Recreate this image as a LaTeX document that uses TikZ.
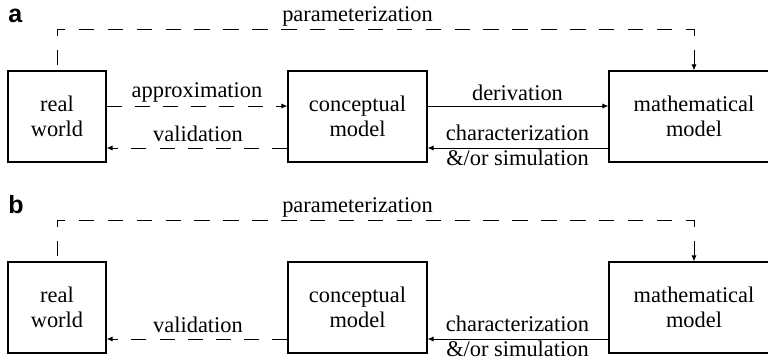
\documentclass[tikz,border=0pt]{standalone}
\usepackage{fontspec}
\setmainfont{Liberation Serif}
\newfontfamily\panelfont{Liberation Sans}
\usetikzlibrary{arrows.meta}

\tikzset{
  box/.style={draw, line width=0.6pt, minimum height=45.5pt, align=center, inner sep=0pt},
  lbl/.style={anchor=base, inner sep=0pt},
  tag/.style={anchor=base west, inner sep=0pt, font=\panelfont\bfseries\fontsize{12.5}{14}\selectfont},
  flow/.style={line width=0.5pt, -{Latex[length=3pt,width=2.6pt]}},
  dashflow/.style={flow, dash pattern=on 7.5pt off 6.6pt},
  paramflow/.style={flow, dash pattern=on 7.7pt off 6.75pt, dash phase=11.75pt},
}

\begin{document}
\begin{tikzpicture}[x=0.5pt, y=-0.5pt, font=\fontsize{11.2}{12.5}\selectfont]
    \useasboundingbox (0,0) rectangle (768,359);

    % panel a
    \node[tag] (taga) at (8,22) {a};
    \node[box, minimum width=49pt] (rwa) at (57,116.5) {real\\world};
    \node[box, minimum width=69.5pt] (cma) at (357.5,116.5) {conceptual\\model};
    \node[box, minimum width=85pt] (mma) at (694,116.5) {mathematical\\model};
    \coordinate (pa) at (0,29);
    \draw[paramflow] (rwa.north) -- (rwa.north |- pa) -- (mma.north |- pa) -- (mma.north);
    \node[lbl] (para) at (357.5,21.5) {parameterization};
    \draw[dashflow] ([yshift=5.25pt]rwa.east) -- ([yshift=5.25pt]cma.west);
    \node[lbl] (apxa) at (197,97) {approximation};
    \draw[dashflow] ([yshift=-15.75pt]cma.west) -- ([yshift=-15.75pt]rwa.east);
    \node[lbl] (vala) at (198,141) {validation};
    \draw[flow] ([yshift=5.25pt]cma.east) -- ([yshift=5.25pt]mma.west);
    \node[lbl] (dera) at (517.5,100) {derivation};
    \draw[flow] ([yshift=-15.75pt]mma.west) -- ([yshift=-15.75pt]cma.east);
    \node[lbl] (chaa) at (517.5,140) {characterization};
    \node[lbl] (sima) at (517.5,165) {\&/or simulation};

    % panel b
    \node[tag] (tagb) at (8,213) {b};
    \node[box, minimum width=49pt] (rwb) at (57,307.5) {real\\world};
    \node[box, minimum width=69.5pt] (cmb) at (357.5,307.5) {conceptual\\model};
    \node[box, minimum width=85pt] (mmb) at (694,307.5) {mathematical\\model};
    \coordinate (pb) at (0,220);
    \draw[paramflow] (rwb.north) -- (rwb.north |- pb) -- (mmb.north |- pb) -- (mmb.north);
    \node[lbl] (parb) at (357.5,212.5) {parameterization};
    \draw[dashflow] ([yshift=-15.75pt]cmb.west) -- ([yshift=-15.75pt]rwb.east);
    \node[lbl] (valb) at (198,332) {validation};
    \draw[flow] ([yshift=-15.75pt]mmb.west) -- ([yshift=-15.75pt]cmb.east);
    \node[lbl] (chab) at (517.5,331) {characterization};
    \node[lbl] (simb) at (517.5,356) {\&/or simulation};
\end{tikzpicture}
\end{document}
